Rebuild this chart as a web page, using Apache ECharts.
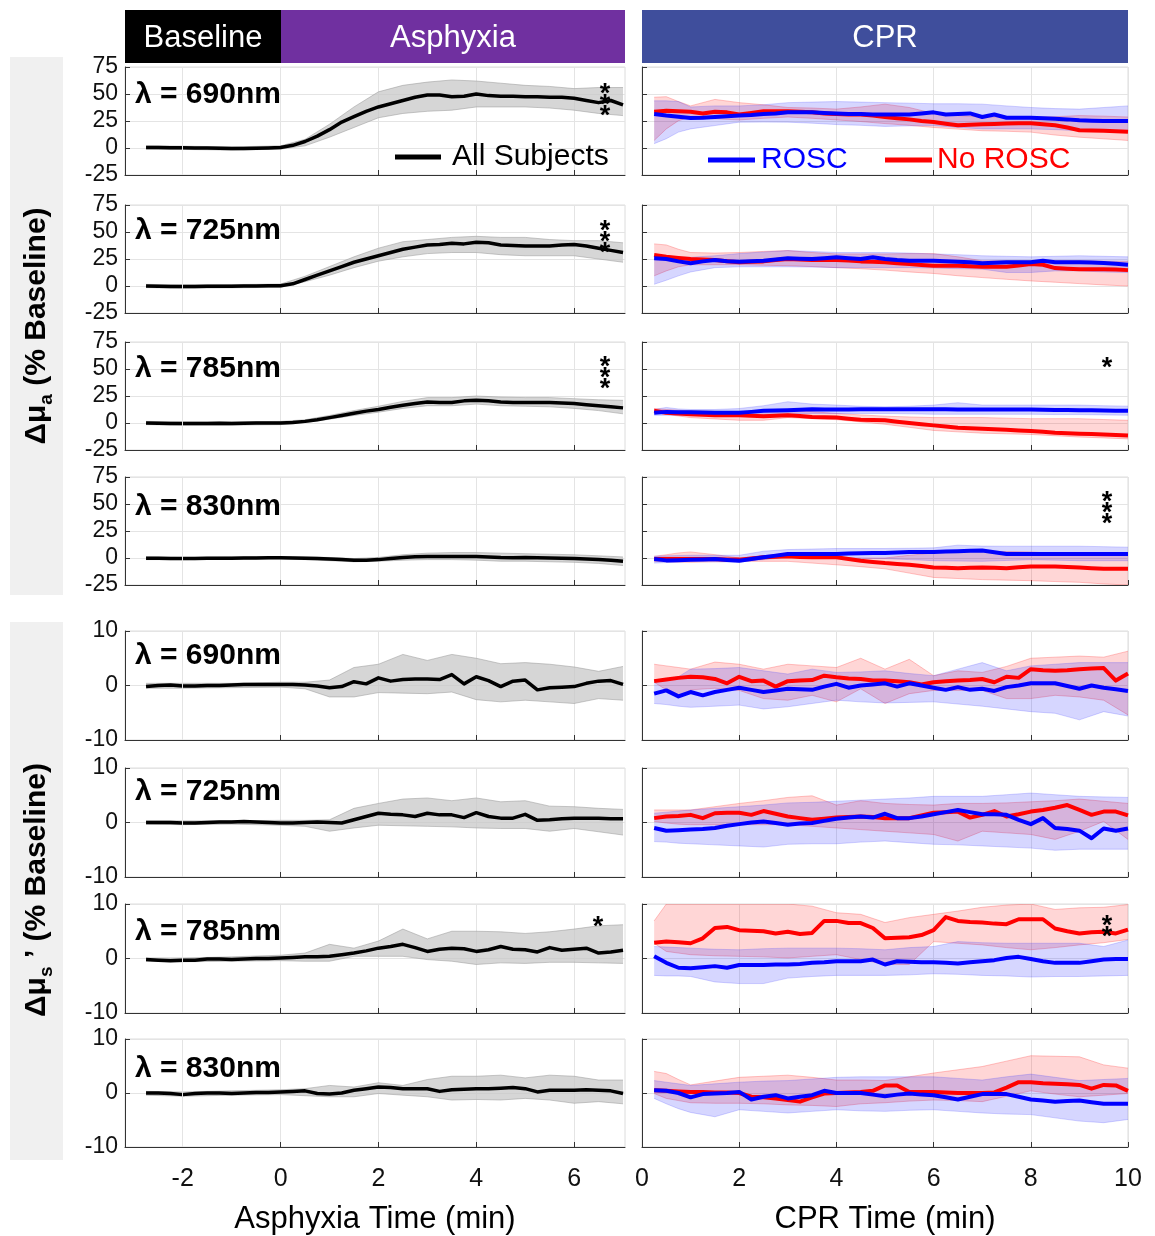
<!DOCTYPE html>
<html>
<head>
<meta charset="utf-8">
<script src="https://cdn.jsdelivr.net/npm/echarts@6/dist/echarts.min.js"></script>
<style>
  html, body { margin: 0; padding: 0; background: #fff; }
  #chart { width: 1155px; height: 1236px; }
</style>
</head>
<body>
<div id="chart"></div>
<script>
// time axes (min)
const asphyxiaTime = [-2.75, -2.5, -2.25, -2, -1.75, -1.5, -1.25, -1, -0.75, -0.5, -0.25, 0,
  0.25, 0.5, 0.75, 1, 1.25, 1.5, 1.75, 2, 2.25, 2.5, 2.75, 3, 3.25, 3.5, 3.75, 4,
  4.25, 4.5, 4.75, 5, 5.25, 5.5, 5.75, 6, 6.25, 6.5, 6.75, 7];
const asphyxiaBandTime = [-2.75, -2, -1, 0, 0.5, 1, 1.5, 2, 2.5, 3, 3.5, 4, 4.5, 5, 5.5, 6, 6.5, 7];
const cprTime = [0.25, 0.5, 0.75, 1, 1.25, 1.5, 1.75, 2, 2.25, 2.5, 2.75, 3, 3.25, 3.5, 3.75, 4,
  4.25, 4.5, 4.75, 5, 5.25, 5.5, 5.75, 6, 6.25, 6.5, 6.75, 7, 7.25, 7.5, 7.75, 8,
  8.25, 8.5, 8.75, 9, 9.25, 9.5, 9.75, 10];
const cprBandTime = [0.25, 0.5, 0.75, 1, 1.5, 2, 2.5, 3, 3.5, 4, 4.5, 5, 5.5, 6, 6.5, 7, 7.5, 8, 8.5, 9, 9.5, 10];

const wavelengths = ['690', '725', '785', '830'];
const muaTicks = [-25, 0, 25, 50, 75];
const musTicks = [-10, 0, 10];
const asphyxiaTicks = [-2, 0, 2, 4, 6];
const cprTicks = [0, 2, 4, 6, 8, 10];

// ---- Δμa, asphyxia (all subjects) ----
const muaAll690 = [0.5,0.5,0.3,0.2,0,0,-0.3,-0.5,-0.5,-0.3,0,0.5,2.5,6,11,17,24,29,34,38,41,44,47,49,49,47.5,48,50,48.5,48,48,47.5,47.5,47,47,46,44,42,44,40];
const muaAll690Hi = [2,1.7,1,2,8,22,38,52,58,61,63,62,60,58,57,55,56,56];
const muaAll690Lo = [-1,-1.3,-2,-1,2,10,19,28,32,34,35,38,38,38,37,35,32,30];
const muaAll725 = [0,-0.3,-0.5,-0.5,-0.5,-0.3,-0.3,-0.2,0,0,0.2,0.3,2,6,10,14,18,22,25,28,31,34,36,38,38.5,39.5,39,40.5,40,38,37.5,37,37,37,38,38.5,37,35,33,31];
const muaAll725Hi = [1.5,1,1.3,1.8,9,18,27,35,41,43,45,46,45,45,43,42,42,40];
const muaAll725Lo = [-1.5,-2,-1.7,-1.2,4,10,17,23,27,30,31,31,29,28,28,28,25,22];
const muaAll785 = [0,-0.3,-0.5,-0.5,-0.5,-0.5,-0.3,-0.5,-0.3,0,0,0,0.5,1.5,3,5,7,9,11,12.5,14.5,16.5,18,19.5,19,19,20.5,21,20.5,19.5,19,19,19,19,18.5,18,17,16,15,14];
const muaAll785Hi = [1.5,1,1,1.5,3,7,11.5,15.5,20,23.5,23.5,25,24,23.5,23.5,22.5,21.5,21];
const muaAll785Lo = [-1.5,-2,-2,-1.5,0.5,3.5,7,10,13.5,16,16,17.5,16,15.5,15,13.5,11.5,8.5];
const muaAll830 = [-0.3,-0.3,-0.5,-0.5,-0.5,-0.3,-0.3,-0.2,0,0,0.2,0.3,0,-0.3,-0.5,-1,-1.5,-2,-2,-1.5,-0.5,0.5,1.2,1.5,1.5,1.5,1.5,1.3,1,0.5,0.3,0.5,0.3,0,-0.3,-0.5,-1,-1.5,-2,-3];
const muaAll830Hi = [1,0.5,1,1.3,1,0.5,-0.5,0.5,3,4.5,5,5,4.5,4,3.5,3,2,1];
const muaAll830Lo = [-1.5,-1.5,-1.2,-0.7,-1.5,-2.5,-3.5,-3,-2,-1.5,-1.5,-2,-3,-3,-3.5,-4,-5,-7];

// ---- Δμs', asphyxia (all subjects) ----
const musAll690 = [-0.2,0,0.1,-0.1,-0.1,0,0,0.1,0.2,0.2,0.2,0.2,0.2,0.1,-0.1,-0.4,-0.2,0.7,0.3,1.4,0.8,1.1,1.2,1.2,1.1,2,0.3,1.6,0.9,-0.2,0.8,1,-0.8,-0.4,-0.3,-0.2,0.4,0.8,0.9,0.2];
const musAll690Hi = [0.4,0.4,0.4,0.6,0.6,1,3.3,3.9,5.7,4.6,5.7,5,4,4.2,3.9,3.4,2.6,3.5];
const musAll690Lo = [-0.5,-0.5,-0.4,-0.3,-0.6,-2.1,-2.1,-1.3,-1.4,-1.5,-1.2,-2.6,-3,-2.7,-3,-3.3,-2.4,-2.7];
const musAll725 = [0,0,0,-0.1,-0.1,0,0.1,0.1,0.2,0.1,0,-0.1,-0.1,0,0.1,0,-0.1,0.5,1.1,1.7,1.5,1.4,1.1,1.7,1.4,1.4,0.9,1.8,1.1,0.8,0.8,1.5,0.4,0.5,0.7,0.8,0.8,0.8,0.7,0.7];
const musAll725Hi = [0.3,0.3,0.3,0.4,0.4,0.5,2.6,3.5,4.3,4.5,4,4.5,3.8,4,3,2.9,2.6,2.4];
const musAll725Lo = [-0.3,-0.4,-0.3,-0.5,-0.7,-1.6,-1,-0.5,-0.6,-0.7,-0.8,-1,-1.1,-1.1,-1.6,-1.1,-1.7,-2.3];
const musAll785 = [-0.2,-0.3,-0.4,-0.3,-0.3,-0.1,-0.1,-0.2,-0.1,0,0,0.1,0.2,0.3,0.3,0.4,0.7,1,1.4,1.9,2.2,2.6,2,1.3,1.7,1.9,1.8,1.3,1.6,2.2,1.7,1.6,1.2,2,1.5,1.7,1.9,1,1.2,1.5];
const musAll785Hi = [0.1,0.1,0.3,0.6,1,2.6,1.9,3.2,5.4,3.6,5,5,4.9,4.6,4.9,5.4,6,6.2];
const musAll785Lo = [-0.5,-0.6,-0.5,-0.4,-0.5,-0.5,0.4,0.4,0.4,-0.2,-0.5,-1.1,-0.8,-0.9,-0.7,-0.7,-0.8,-0.9];
const musAll830 = [0,0,-0.1,-0.3,-0.1,0,0,-0.1,0,0.1,0.1,0.2,0.3,0.4,-0.1,-0.2,0,0.5,0.8,1.1,1,0.8,0.8,0.8,0.3,0.6,0.7,0.8,0.8,0.9,1,0.8,0.2,0.5,0.5,0.5,0.6,0.5,0.4,-0.1];
const musAll830Hi = [0.3,0.2,0.4,0.6,0.8,1.4,1.1,1.9,1.4,2.5,3.1,3.1,3.3,2.8,3.3,3.1,2.4,2.4];
const musAll830Lo = [-0.4,-0.6,-0.4,-0.3,-0.5,-0.7,-0.7,-0.1,-0.4,-0.7,-1.3,-1.2,-1.3,-1,-1.3,-1.9,-1.6,-2];

// ---- Δμa, CPR (ROSC / No ROSC) ----
const muaRosc690 = [31.4,30,29,27.7,28,28.7,29.5,30,30.5,31.4,32,33,33,33,32.5,32,31.5,31.4,31,31,31,31,32,33,31,31.4,32,28.7,31,28,28,28,27.5,27,26.5,25.6,25.3,25,25,25];
const muaRosc690Hi = [43.7,43.7,43,38,39,39,40,42,42.5,43,42.5,42,41.5,41,41,40.6,39,37.5,36.5,36,37.5,39];
const muaRosc690Lo = [4,8.6,14.7,17.7,20.8,23.9,24,23.9,23,21.7,21,20,20.5,20.8,19,17.7,17.7,17.7,17,16,15.5,14.7];
const muaNoRosc690 = [33.5,34.5,34,33.5,32,33.5,33,31,32.5,34,34,34,33.5,33,32,31.4,31,31,30,28.7,27.5,26.5,25,24,22.5,21,21.5,22,22.3,22.6,23,23,22,21,19,16.5,16.2,16,15.5,15];
const muaNoRosc690Hi = [47,47.5,43,39,45,42,40,37.5,37,36,38,40.6,37.5,32,30,28.7,28.7,28.7,29,30,29.5,28.7];
const muaNoRosc690Lo = [7,17.7,25.3,28.7,27,26,27.5,28.7,27.5,26,24.5,22.6,21,19,17.5,16,15.5,14.7,12,10,8.5,7];

const muaRosc725 = [25.6,25,22.8,21,22.8,24,23,22.5,23,23.4,24.5,25.6,25.3,25,25.8,26.6,25.8,25,26.6,25,24,23.4,23.4,23.4,23,22.5,22,21,21.5,22,22,22,23.4,22,22,22,21.8,21.3,20.5,19.7];
const muaRosc725Hi = [27,27,26.6,26.6,28,30,31.5,32.8,32,31,31,31,30.5,29.7,29,28,27.5,27,27.5,28,27.5,27];
const muaRosc725Lo = [1.6,5.3,9.4,13,17,17.8,17.8,17.8,17.5,17,17,17,17,16.6,16,15.6,12.5,12.5,14,14,13,12.5];
const muaNoRosc725 = [28.7,27,26,25,24.5,24,23,22,22.5,22.8,24,25,24.5,24,24,24,23.5,22.8,22.5,22,21,20.3,19.5,18.8,18.8,18.8,18.3,17.8,17.8,17.8,19,20.3,19.7,16.6,16,15.6,15.6,15.6,15.2,14.7];
const muaNoRosc725Hi = [39,38,34,31,30.5,31,32,32.8,31,29.7,29.7,29.7,30,30,27,23.4,23.4,23.4,23.4,23.4,23,22.8];
const muaNoRosc725Lo = [9.4,14,17.8,19.7,19.7,19.7,19.2,18.8,18,17,16,14.7,13,11.6,9.5,7.8,6.2,4.7,3.5,2.2,1,0];

const muaRosc785 = [9.4,10.3,10,10,9.8,9.4,9.4,9.4,10.3,11.3,11.6,11.9,12.3,12.8,12.6,12.5,12.6,12.7,12.8,12.8,12.8,12.8,12.8,12.8,12.7,12.6,12.5,12.5,12.5,12.5,12.5,12.5,12.3,12.1,12,11.9,11.7,11.5,11.4,11.3];
const muaRosc785Hi = [12.5,14.4,13,12.5,12.5,13.4,16,19.7,17.5,16.6,15.5,15,15.5,16.6,18.8,16.6,16.6,16.6,16.6,16.6,16,15.6];
const muaRosc785Lo = [7.2,7.2,7.2,7.2,7,6.3,7.5,8.8,8.8,8.8,8.8,8.8,8.5,8.1,8.1,8.1,8.1,8.1,7.8,7.8,7.5,7.2];
const muaNoRosc785 = [11.3,9.4,8.7,8.1,7.6,7.2,7.2,7.2,6.8,6.3,6.8,7.2,6.4,5.6,5.3,5,4,3.1,2.8,2.5,1.2,0,-1.1,-2.2,-3.3,-4.4,-4.9,-5.3,-5.8,-6.3,-6.9,-7.5,-8.2,-9,-9.5,-10,-10.3,-10.6,-11.1,-11.6];
const muaNoRosc785Hi = [13.4,12.5,11.8,11.3,10.8,10.3,11.5,12.5,10.5,8.8,7.5,6.3,5.6,5,5,5,4.5,4,4,4,3.2,2.5];
const muaNoRosc785Lo = [9.4,8,6.5,5,3.8,2.5,2.5,5,4,3.1,1,-1.2,-4,-6.9,-8.2,-9.4,-10,-10.6,-11.8,-13,-13.8,-14.7];

const muaRosc830 = [-1,-2.2,-2,-1.6,-1.3,-1,-1.8,-2.5,-1,0.6,2.2,3.8,3.8,3.8,3.8,3.8,4.2,4.5,4.7,4.7,5.2,5.6,5.6,5.6,6,6.3,6.6,6.9,5.3,3.8,3.8,3.8,3.8,3.8,3.8,3.8,3.8,3.8,3.8,3.8];
const muaRosc830Hi = [1.6,2,2.3,2.5,2.5,2.5,6.3,7.8,8.3,8.8,8.8,8.8,9,9.4,11.9,11,10.9,10.9,10.9,10.9,10.5,10];
const muaRosc830Lo = [-4.7,-4.2,-3.6,-3.1,-3.4,-3.8,-1.5,0.6,0.3,0,-0.3,-0.6,-1.5,-2.5,-2.8,-3.1,-2.3,-1.6,-2,-2.5,-2.5,-2.5];
const muaNoRosc830 = [-1,-1,-1,-1,-1,-1,-1.3,-1.5,-0.5,0.6,1.2,1.6,1,0.6,0.6,0.6,-1,-2.5,-3.6,-4.7,-5.5,-6.3,-7.5,-8.8,-9.1,-9.4,-9.1,-8.8,-9.1,-9.4,-8.6,-7.8,-7.8,-7.8,-8.3,-8.8,-9.4,-10,-10,-10];
const muaNoRosc830Hi = [1.6,3,4.7,5.6,3.1,0,2,4.7,2.5,0,0,0,2.5,4.7,5.5,6.3,6,5.6,4.3,3.1,2.8,2.5];
const muaNoRosc830Lo = [-3.1,-3.5,-3.8,-4,-3.5,-3.1,-3.1,-3.1,-4.7,-6.3,-8,-10,-14,-18,-19,-20,-20.5,-21,-21.8,-22.5,-24,-25];

// ---- Δμs', CPR (ROSC / No ROSC) ----
const musRosc690 = [-1.5,-0.9,-2,-1.2,-1.8,-1.2,-0.8,-0.4,-0.8,-1.2,-0.9,-0.6,-0.7,-0.8,-0.2,0.3,-0.4,0,0.2,0.4,-0.2,0.4,0,-0.4,-0.8,-0.3,-0.8,-0.6,-1,-0.3,0,0.4,0.4,0.4,-0.1,-0.6,0,-0.4,-0.7,-1];
const musRosc690Hi = [0.9,1.2,1.6,3,3.1,3.3,2.7,2.1,3,2.4,2.5,2.7,2.2,1.8,3,4.2,2.7,3.6,3.9,4.2,4.2,4.2];
const musRosc690Lo = [-3.3,-3.5,-3.8,-4,-3.8,-3.6,-4.3,-3.9,-3.3,-2.7,-3,-3.2,-3.1,-3,-3.4,-3.8,-4.3,-4.8,-5.1,-6.3,-4.8,-5.6];
const musNoRosc690 = [0.8,1.1,1.4,1.6,1.5,1.2,0.4,1.6,0.8,0.9,-0.2,0.8,0.9,1,1.8,1.5,1.3,1.2,0.9,0.9,0.8,0.6,0.2,0.6,0.8,0.9,1,1.2,0.6,1.6,1.4,3,2.8,2.7,2.8,3,3.1,3.2,0.9,2.2];
const musNoRosc690Hi = [3.9,3.6,3.3,3,4.3,3.9,3,3.9,3.6,3.3,5,3,4.8,1.8,2.7,2.4,3.5,5,5.2,5.4,5.2,6.3];
const musNoRosc690Lo = [0.6,-0.8,-2.1,-0.8,-0.5,-0.9,-2.4,-2.7,-1.8,-3,-0.6,-3.3,-1.5,-0.9,-0.9,-0.9,-2.4,-2.4,-1.8,-2.1,-2.7,-5.4];

const musRosc725 = [-1,-1.5,-1.4,-1.3,-1.2,-1,-0.6,-0.3,0,0.2,-0.1,-0.4,-0.2,-0.1,0.3,0.7,0.9,1.1,0.9,1.6,0.8,0.8,1.1,1.5,1.9,2.3,1.9,1.5,1.5,1.4,0.5,-0.3,0.8,-1,-1.2,-1.5,-2.9,-1.1,-1.5,-1.1];
const musRosc725Hi = [1.7,1.9,2.1,2.3,2.6,2.9,3.2,3.6,3.7,3.9,4.1,4.3,4.5,4.8,4.8,4.8,5.1,5.4,5.1,4.8,4.7,4.6];
const musRosc725Lo = [-3.5,-3.6,-3.8,-3.9,-4.1,-4.3,-4.5,-4,-3.9,-3.9,-3.6,-3.4,-3.7,-4,-4.1,-4.3,-4.5,-4.7,-5.1,-4.9,-4.9,-4.9];
const musNoRosc725 = [0.8,1.1,1.2,1.4,0.8,1.7,1.8,1.8,1.4,2.1,1.6,1.1,0.8,0.5,0.7,0.9,1,1.1,1,0.8,0.8,0.8,1.3,1.8,1.9,2,0.9,1.4,2.1,1.1,1.5,2,2.3,2.7,3.2,2.3,1.4,2,2,1.3];
const musNoRosc725Hi = [2.3,2.3,2.3,2.3,2.9,3.5,4,4.6,4.9,3.2,4,3.5,3.3,3.2,3.5,3.5,3.6,3.8,4,4.3,3.9,3.5];
const musNoRosc725Lo = [0.2,-0.1,-0.3,-0.4,-0.4,-0.4,-0.4,-0.4,-0.7,-1,-1.3,-1.6,-1.9,-2.2,-3.4,-1.6,-1.9,-2.2,-3.1,-1.6,0.2,-3.1];

const musRosc785 = [0.4,-0.8,-1.7,-1.8,-1.6,-1.4,-1.7,-1.2,-1.2,-1.2,-1.1,-1.1,-1,-0.8,-0.7,-0.5,-0.5,-0.5,-0.2,-1.1,-0.5,-0.6,-0.7,-0.7,-0.8,-0.9,-0.7,-0.5,-0.3,0.1,0.3,-0.1,-0.5,-0.8,-0.8,-0.8,-0.5,-0.2,-0.1,-0.1];
const musRosc785Hi = [2.2,2.1,2,1.9,1.7,1.6,1.8,1.9,1.9,1.9,1.8,1.6,2,2.2,3.1,2.9,2.8,2.8,2.8,2.8,2.2,3.4];
const musRosc785Lo = [-3.1,-3.2,-3.2,-3.3,-4.3,-4.6,-4.6,-3.6,-3.3,-3.1,-3.1,-3.1,-3,-2.8,-2.9,-3.1,-3.2,-3.4,-3.3,-3.3,-3.2,-3.1];
const musNoRosc785 = [2.9,3.1,3,2.8,3.7,5.6,5.8,5.2,5.1,5,4.6,4.9,4.5,4.7,6.9,6.9,6.5,6.5,5.6,3.7,3.8,3.9,4.3,5.2,7.6,6.9,6.7,6.6,6.4,6.3,7.2,7.2,7.2,5.5,5,4.6,4.8,4.9,4.6,5.3];
const musNoRosc785Hi = [6.9,10,10,10,10,10,10,10,9.6,8.4,8.1,6.6,7.5,8.1,8.7,9.4,9.8,10,9,9.3,9.4,9.9];
const musNoRosc785Lo = [2.8,1.3,1,0.7,0.5,0.4,0.3,0.1,0.4,0.7,-0.2,-1.1,-1.1,3.1,2.8,2.5,2,1.6,2,2.5,2.9,3.5];

const musRosc830 = [0.5,0.4,0,-0.8,-0.2,-0.1,0,0.2,-1.2,-0.7,-0.4,-1,-0.7,-0.4,0.4,0,0,0,-0.3,-0.6,-0.3,-0.1,-0.3,-0.4,-0.8,-1.2,-0.7,-0.2,-0.2,-0.2,-0.7,-1.2,-1.4,-1.6,-1.5,-1.4,-1.7,-2,-2,-2];
const musRosc830Hi = [2.3,2,1.7,1.4,1.7,2,2.2,2.3,2.6,2.9,3,3,3,3,2.7,2.4,3,3.5,2.9,2.3,2.5,2.7];
const musRosc830Lo = [-1,-2,-2.9,-3.6,-4.4,-3.1,-3.4,-3.7,-3.4,-3.1,-3.3,-3.4,-3.2,-3.1,-3.4,-3.7,-3.9,-4,-4.6,-5.2,-5.5,-4.9];
const musNoRosc830 = [0.5,0.4,0.3,0.2,0.2,0.1,0.1,0,-0.7,-0.8,-1,-1.3,-1.6,-0.8,-0.1,0,0.1,0.2,0.4,1.4,1.4,0.2,0.2,0.2,0.1,0,0,0,0.1,1,2,2,1.8,1.7,1.6,1.5,0.8,1.5,1.4,0.4];
const musNoRosc830Hi = [4,3.6,2.5,1.5,2.2,2.9,3.1,3.3,2.9,2.4,2.4,2.3,3,3.7,4.3,4.9,5.9,6.9,6.8,6.7,5.2,4.6];
const musNoRosc830Lo = [-0.1,-1,-1.4,-1.8,-1.9,-1.9,-2,-2.2,-2.3,-2.5,-2,-1.8,-1.5,-1.3,-1.4,-1.6,-0.6,0.4,-0.2,-0.7,-0.4,-0.1];

// significance marks (left / right column, per row)
const sigLeft = ['***', '***', '***', '', '', '', '*', ''];
const sigRight = ['', '', '*', '***', '', '', '**', ''];

// ---------------- layout ----------------
const FONT = 'Liberation Sans, Arial, Helvetica, sans-serif';
const GRID_COLOR = '#e4e4e4';
const rowTop = [67, 205, 342, 477, 631, 768, 904, 1039];
const rowH = [108, 108, 108, 108, 109, 109, 109, 109];
const colLeft = [125, 642];
const colW = [500, 486];
const labelY = [95, 231, 369, 507, 656, 792, 932, 1069];

const leftRows = [
  [muaAll690, muaAll690Lo, muaAll690Hi], [muaAll725, muaAll725Lo, muaAll725Hi],
  [muaAll785, muaAll785Lo, muaAll785Hi], [muaAll830, muaAll830Lo, muaAll830Hi],
  [musAll690, musAll690Lo, musAll690Hi], [musAll725, musAll725Lo, musAll725Hi],
  [musAll785, musAll785Lo, musAll785Hi], [musAll830, musAll830Lo, musAll830Hi]
];
const rightRows = [
  [muaRosc690, muaRosc690Lo, muaRosc690Hi, muaNoRosc690, muaNoRosc690Lo, muaNoRosc690Hi],
  [muaRosc725, muaRosc725Lo, muaRosc725Hi, muaNoRosc725, muaNoRosc725Lo, muaNoRosc725Hi],
  [muaRosc785, muaRosc785Lo, muaRosc785Hi, muaNoRosc785, muaNoRosc785Lo, muaNoRosc785Hi],
  [muaRosc830, muaRosc830Lo, muaRosc830Hi, muaNoRosc830, muaNoRosc830Lo, muaNoRosc830Hi],
  [musRosc690, musRosc690Lo, musRosc690Hi, musNoRosc690, musNoRosc690Lo, musNoRosc690Hi],
  [musRosc725, musRosc725Lo, musRosc725Hi, musNoRosc725, musNoRosc725Lo, musNoRosc725Hi],
  [musRosc785, musRosc785Lo, musRosc785Hi, musNoRosc785, musNoRosc785Lo, musNoRosc785Hi],
  [musRosc830, musRosc830Lo, musRosc830Hi, musNoRosc830, musNoRosc830Lo, musNoRosc830Hi]
];

function pairs(t, v) {
  return t.map(function (x, i) { return [x, v[i]]; });
}

// shaded band drawn as one polygon through the axis scales
function bandSeries(idx, t, lo, hi, fill, edge) {
  return {
    type: 'custom', xAxisIndex: idx, yAxisIndex: idx, clip: true, silent: true, z: 1,
    data: [[t[0], lo[0]]],
    renderItem: function (params, api) {
      var top = t.map(function (x, i) { return api.coord([x, hi[i]]); });
      var bot = t.map(function (x, i) { return api.coord([x, lo[i]]); });
      return {
        type: 'group',
        children: [
          { type: 'polygon', shape: { points: top.concat(bot.slice().reverse()) }, style: { fill: fill } },
          { type: 'polyline', shape: { points: top }, style: { stroke: edge, lineWidth: 1, fill: null } },
          { type: 'polyline', shape: { points: bot }, style: { stroke: edge, lineWidth: 1, fill: null } }
        ]
      };
    }
  };
}

function lineSeries(idx, t, v, color, w) {
  return {
    type: 'line', xAxisIndex: idx, yAxisIndex: idx, data: pairs(t, v),
    showSymbol: false, symbol: 'none', z: 3, silent: true,
    lineStyle: { color: color, width: w, join: 'round' }
  };
}

var grids = [], xAxes = [], yAxes = [], series = [], graphic = [];

for (var r = 0; r < 8; r++) {
  var isMua = r < 4;
  var ticks = isMua ? muaTicks : musTicks;
  for (var c = 0; c < 2; c++) {
    var idx = r * 2 + c;
    grids.push({
      left: colLeft[c], top: rowTop[r], width: colW[c], height: rowH[r],
      show: true, borderColor: '#dcdcdc', borderWidth: 1, backgroundColor: '#fff'
    });
    var xt = c === 0 ? asphyxiaTicks : cprTicks;
    xAxes.push({
      type: 'value', gridIndex: idx,
      min: c === 0 ? -3.18 : 0, max: c === 0 ? 7.04 : 10,
      interval: c === 0 ? undefined : 2, splitNumber: 5,
      name: r === 7 ? (c === 0 ? 'Asphyxia Time (min)' : 'CPR Time (min)') : '',
      nameLocation: 'middle', nameGap: 57,
      nameTextStyle: { fontSize: 31, color: '#000', fontFamily: FONT },
      axisLine: { show: true, onZero: false, lineStyle: { color: '#333', width: 1 } },
      axisTick: { show: true, inside: true, length: 5, lineStyle: { color: '#333' }, customValues: xt },
      splitLine: { show: true, lineStyle: { color: GRID_COLOR, width: 1 } },
      axisLabel: {
        show: r === 7, fontSize: 25, color: '#111', fontFamily: FONT, margin: 20,
        customValues: xt
      }
    });
    yAxes.push({
      type: 'value', gridIndex: idx,
      min: ticks[0], max: ticks[ticks.length - 1], interval: isMua ? 25 : 10,
      axisLine: { show: true, onZero: false, lineStyle: { color: '#333', width: 1 } },
      axisTick: { show: true, inside: true, length: 5, lineStyle: { color: '#333' } },
      splitLine: { show: true, lineStyle: { color: GRID_COLOR, width: 1 } },
      axisLabel: { show: c === 0, fontSize: 23, color: '#111', fontFamily: FONT, margin: 7 }
    });

    if (c === 0) {
      var L = leftRows[r];
      var band = bandSeries(idx, asphyxiaBandTime, L[1], L[2], 'rgba(200,200,200,0.75)', 'rgba(150,150,150,0.5)');
      // grid line at the first labelled tick, which the value scale skips
      band.markLine = {
        silent: true, symbol: 'none', label: { show: false },
        lineStyle: { color: GRID_COLOR, type: 'solid', width: 1 },
        data: [{ xAxis: asphyxiaTicks[0] }]
      };
      series.push(band);
      series.push(lineSeries(idx, asphyxiaTime, L[0], '#000', 3.5));
    } else {
      var R = rightRows[r];
      series.push(bandSeries(idx, cprBandTime, R[4], R[5], 'rgba(255,0,0,0.16)', 'rgba(255,60,60,0.3)'));
      series.push(bandSeries(idx, cprBandTime, R[1], R[2], 'rgba(0,0,255,0.16)', 'rgba(60,60,255,0.22)'));
      series.push(lineSeries(idx, cprTime, R[3], '#ff0000', 4));
      series.push(lineSeries(idx, cprTime, R[0], '#0000ff', 4));
    }
  }

  // wavelength label
  graphic.push({
    type: 'text', x: 135, y: labelY[r], z: 10,
    style: { text: 'λ = ' + wavelengths[r % 4] + 'nm', fontSize: 30, fontWeight: 'bold',
      fontFamily: FONT, fill: '#000', align: 'left', verticalAlign: 'middle' }
  });
}

// significance asterisks (stacked vertically)
var sigLeftY = [100, 237, 373, 0, 0, 0, 922, 0];
var sigRightY = [0, 0, 363, 508, 0, 0, 926, 0];
function stars(s, x, y) {
  graphic.push({
    type: 'text', x: x, y: y + 6, z: 10,
    style: { text: s.split('').join('\n'), fontSize: 27, fontWeight: 'bold', lineHeight: 11,
      fontFamily: FONT, fill: '#000', align: 'center', verticalAlign: 'middle' }
  });
}
for (var k = 0; k < 8; k++) {
  if (sigLeft[k]) stars(sigLeft[k], k === 6 ? 598 : 605, sigLeftY[k]);
  if (sigRight[k]) stars(sigRight[k], 1107, sigRightY[k]);
}

// phase header bars
graphic.push(
  { type: 'rect', shape: { x: 125, y: 10, width: 156, height: 53 }, style: { fill: '#000' } },
  { type: 'rect', shape: { x: 281, y: 10, width: 344, height: 53 }, style: { fill: '#7030a0' } },
  { type: 'rect', shape: { x: 642, y: 10, width: 486, height: 53 }, style: { fill: '#3f4e9c' } },
  { type: 'text', x: 203, y: 38, style: { text: 'Baseline', fontSize: 31, fontFamily: FONT, fill: '#fff', align: 'center', verticalAlign: 'middle' } },
  { type: 'text', x: 453, y: 38, style: { text: 'Asphyxia', fontSize: 31, fontFamily: FONT, fill: '#fff', align: 'center', verticalAlign: 'middle' } },
  { type: 'text', x: 885, y: 38, style: { text: 'CPR', fontSize: 31, fontFamily: FONT, fill: '#fff', align: 'center', verticalAlign: 'middle' } }
);

// grey side panels with y titles
graphic.push(
  { type: 'rect', z: -1, shape: { x: 10, y: 57, width: 53, height: 538 }, style: { fill: '#f0f0f0' } },
  { type: 'rect', z: -1, shape: { x: 10, y: 622, width: 53, height: 538 }, style: { fill: '#f0f0f0' } },
  {
    type: 'text', x: 37, y: 326, rotation: Math.PI / 2,
    style: {
      text: '{b|Δμ}{s|a}{b| (% Baseline)}', align: 'center', verticalAlign: 'middle',
      rich: {
        b: { fontSize: 30, fontWeight: 'bold', fontFamily: FONT, fill: '#000', lineHeight: 38 },
        s: { fontSize: 19, fontWeight: 'bold', fontFamily: FONT, fill: '#000', lineHeight: 20, verticalAlign: 'bottom' }
      }
    }
  },
  {
    type: 'text', x: 37, y: 890, rotation: Math.PI / 2,
    style: {
      text: '{b|Δμ}{s|s}{b| ’ (% Baseline)}', align: 'center', verticalAlign: 'middle',
      rich: {
        b: { fontSize: 30, fontWeight: 'bold', fontFamily: FONT, fill: '#000', lineHeight: 38 },
        s: { fontSize: 19, fontWeight: 'bold', fontFamily: FONT, fill: '#000', lineHeight: 20, verticalAlign: 'bottom' }
      }
    }
  }
);

// legends inside the first row
graphic.push(
  { type: 'line', z: 10, shape: { x1: 395, y1: 157, x2: 441, y2: 157 }, style: { stroke: '#000', lineWidth: 5 } },
  { type: 'text', z: 10, x: 452, y: 157, style: { text: 'All Subjects', fontSize: 30, fontFamily: FONT, fill: '#000', align: 'left', verticalAlign: 'middle' } },
  { type: 'line', z: 10, shape: { x1: 708, y1: 160, x2: 755, y2: 160 }, style: { stroke: '#0000ff', lineWidth: 5 } },
  { type: 'text', z: 10, x: 761, y: 160, style: { text: 'ROSC', fontSize: 30, fontFamily: FONT, fill: '#0000ff', align: 'left', verticalAlign: 'middle' } },
  { type: 'line', z: 10, shape: { x1: 885, y1: 160, x2: 932, y2: 160 }, style: { stroke: '#ff0000', lineWidth: 5 } },
  { type: 'text', z: 10, x: 937, y: 160, style: { text: 'No ROSC', fontSize: 30, fontFamily: FONT, fill: '#ff0000', align: 'left', verticalAlign: 'middle' } }
);

var chart = echarts.init(document.getElementById('chart'), null, { renderer: 'canvas' });
chart.setOption({
  animation: false,
  backgroundColor: '#fff',
  textStyle: { fontFamily: FONT },
  grid: grids,
  xAxis: xAxes,
  yAxis: yAxes,
  series: series,
  graphic: graphic
});
</script>
</body>
</html>
